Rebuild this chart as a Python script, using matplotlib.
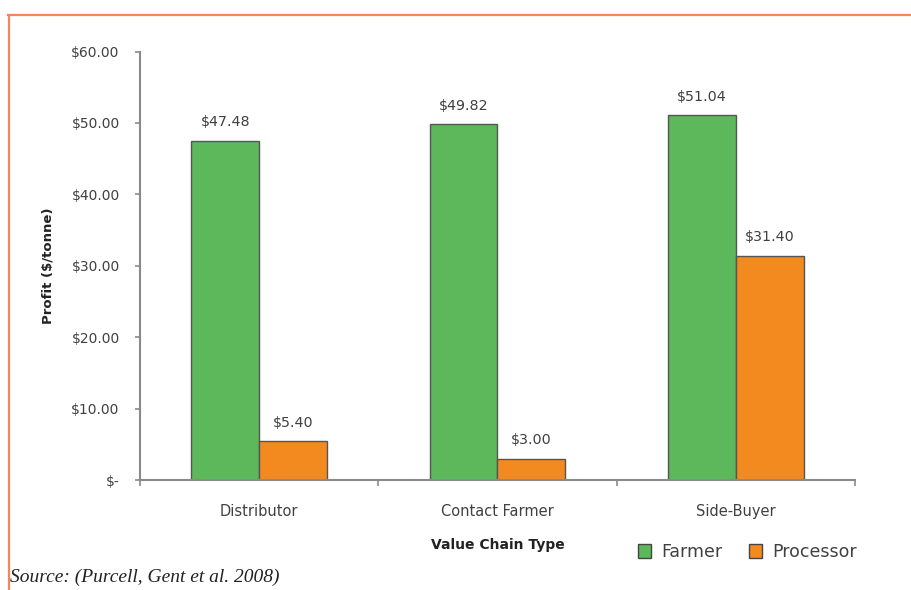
import matplotlib.pyplot as plt
from matplotlib.lines import Line2D
from matplotlib.patches import Patch
import numpy as np

# data
categories = ['Distributor', 'Contact Farmer', 'Side-Buyer']
farmer = [47.48, 49.82, 51.04]
processor = [5.40, 3.00, 31.40]
y_ticks = [0, 10, 20, 30, 40, 50, 60]
y_tick_labels = ['$-', '$10.00', '$20.00', '$30.00', '$40.00', '$50.00', '$60.00']

green = '#5cb85a'
orange = '#f28a1f'
txt = '#404040'
axcol = '#8a8a8a'

plt.rcParams['font.family'] = ['DejaVu Sans']

fig = plt.figure(figsize=(9.12, 5.9), dpi=100)
ax = fig.add_axes([0.1535, 0.1864, 0.784, 0.7263])

x = np.arange(len(categories))
w = 0.285
b1 = ax.bar(x - w / 2, farmer, w, color=green, edgecolor='#555555', linewidth=1)
b2 = ax.bar(x + w / 2, processor, w, color=orange, edgecolor='#555555', linewidth=1)

# value labels above each bar
for bars, vals in [(b1, farmer), (b2, processor)]:
    for r, v in zip(bars, vals):
        ax.text(r.get_x() + r.get_width() / 2, v + 1.6, '$%.2f' % v,
                ha='center', va='bottom', fontsize=10.3, color=txt)

ax.set_xlim(-0.5, 2.5)
ax.set_ylim(0, 60)
ax.set_yticks(y_ticks)
ax.set_yticklabels(y_tick_labels, fontsize=10, color=txt)
ax.set_xticks([-0.5, 0.5, 1.5, 2.5])
ax.set_xticklabels([])
ax.set_xticks(x, minor=True)
ax.set_xticklabels(categories, minor=True, fontsize=10.5, color=txt)
ax.tick_params(axis='x', which='minor', length=0, pad=17)
ax.tick_params(axis='x', which='major', length=4, color=axcol, width=1.2)
ax.tick_params(axis='y', length=3.6, color=axcol, width=1.2, pad=11)

for s in ['top', 'right']:
    ax.spines[s].set_visible(False)
for s in ['left', 'bottom']:
    ax.spines[s].set_color(axcol)
    ax.spines[s].set_linewidth(1.5)

ax.set_xlabel('Value Chain Type', fontsize=10, fontweight='bold', color='#222222', labelpad=14)
ax.set_ylabel('Profit ($/tonne)', fontsize=9.5, fontweight='bold', color='#222222', labelpad=12)

handles = [Patch(facecolor=green, edgecolor='#444444'), Patch(facecolor=orange, edgecolor='#444444')]
fig.legend(handles, ['Farmer', 'Processor'], loc='center', bbox_to_anchor=(0.8197, 1 - 552 / 590),
           ncol=2, frameon=False, fontsize=12.5, handlelength=0.75, handleheight=0.9,
           handletextpad=0.6, columnspacing=1.5, labelcolor=txt)

fig.text(0.011, 1 - 577 / 590, 'Source: (Purcell, Gent et al. 2008)', fontsize=14, style='italic',
         family='Liberation Serif', color='#222222', va='center', ha='left')

# orange frame lines at top and left
fig.add_artist(Line2D([0.009, 1.0], [1 - 15 / 590, 1 - 15 / 590], color='#f4865a', lw=1.6))
fig.add_artist(Line2D([9 / 912, 9 / 912], [0, 1 - 15 / 590], color='#f4865a', lw=1.6))

fig.savefig('out.png', dpi=100)
